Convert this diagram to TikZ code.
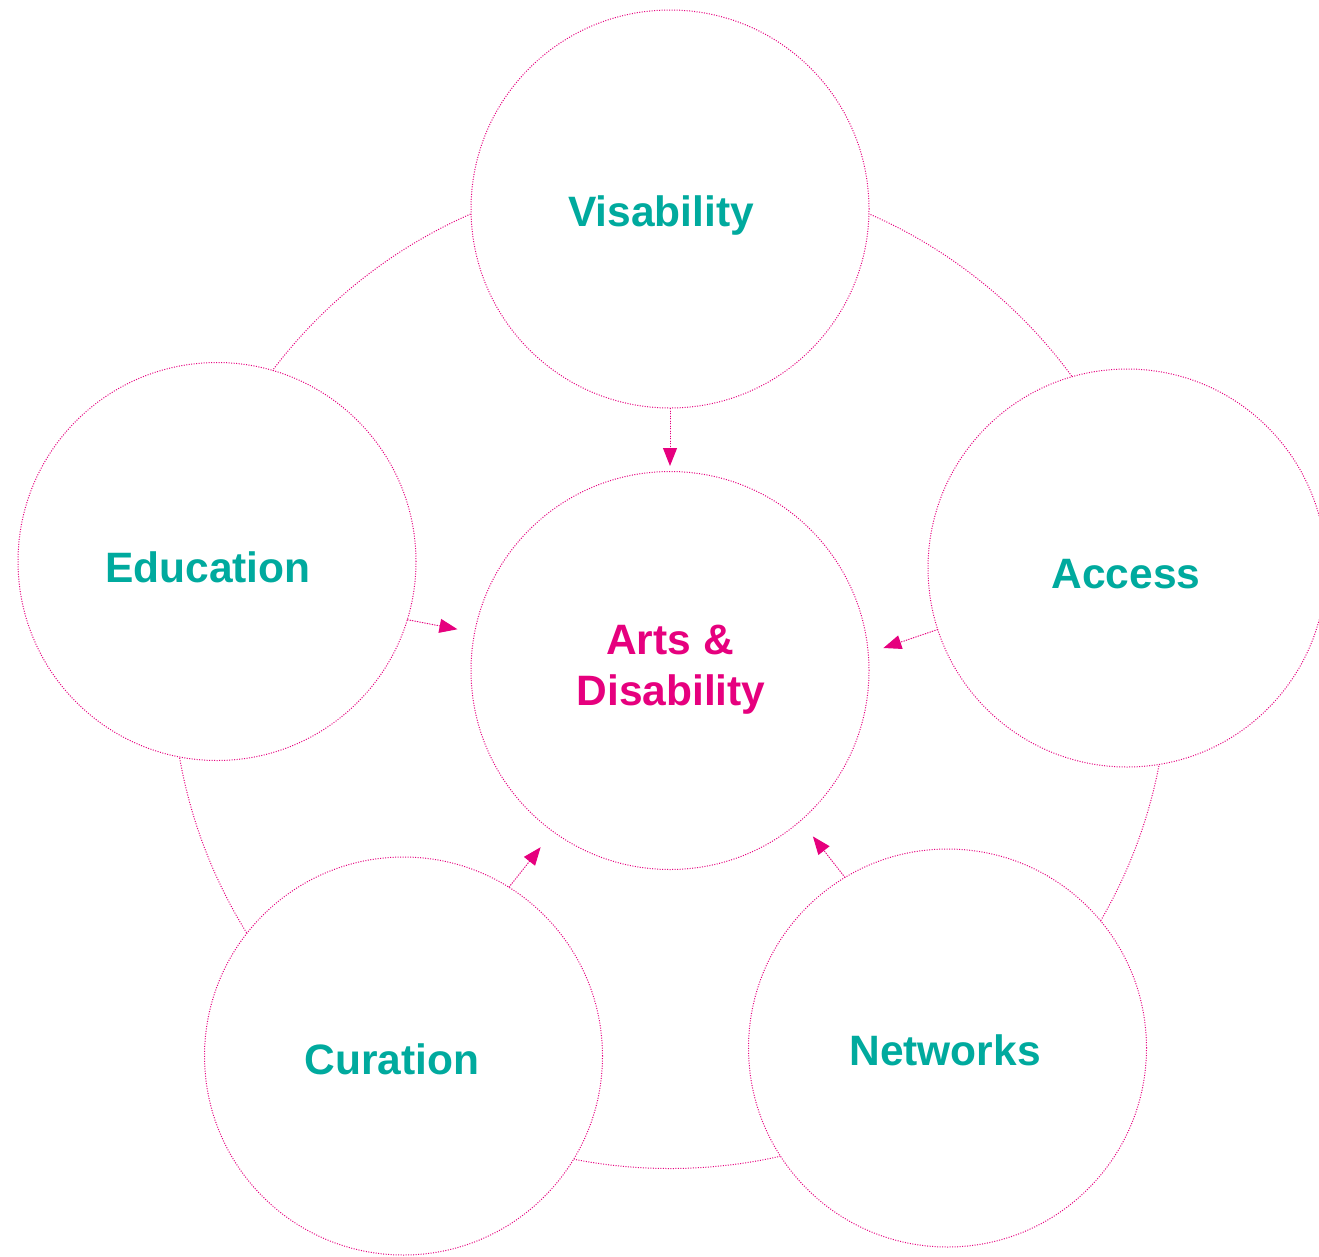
\documentclass[tikz,border=0pt]{standalone}
\usepackage{fontspec}
\setmainfont{Liberation Sans}
\usetikzlibrary{arrows.meta}
\definecolor{pinkline}{HTML}{E6007E}
\definecolor{tealtext}{HTML}{00AA9E}
\tikzset{
  dotline/.style={draw=pinkline, line width=1pt, dash pattern=on 1pt off 1.5pt},
  topic/.style={circle, dotline, fill=white, minimum size=398pt, inner sep=0pt, outer sep=0pt},
  topiclabel/.style={anchor=base, text=tealtext, inner sep=0pt, font=\fontsize{42.5}{50}\selectfont\bfseries},
  hublabel/.style={anchor=base, text=pinkline, inner sep=0pt, font=\fontsize{42.5}{50}\selectfont\bfseries},
  feed/.style={dotline, -{Triangle[length=18pt,width=14pt]}, fill=pinkline}
}
\begin{document}
\begin{tikzpicture}[x=1pt,y=-1pt]
  \useasboundingbox (0,0) rectangle (1319,1256);
  \clip (0,0) rectangle (1319,1256);

  % outer ring joining the five topics
  \coordinate (ringc) at (670,670.5);
  \draw[dotline] (ringc) circle[radius=498pt];

  % topic circles
  \node[topic] (hub) at (670,670.5) {};
  \node[topic] (vis) at (670,209) {};
  \node[topic] (edu) at (217,561.5) {};
  \node[topic] (acc) at (1127,568) {};
  \node[topic] (cur) at (403.5,1056) {};
  \node[topic] (net) at (947.5,1048) {};

  % labels
  \node[topiclabel] (visL) at (661,226) {Visability};
  \node[topiclabel] (eduL) at (208,582) {Education};
  \node[topiclabel] (accL) at (1126,588) {Access};
  \node[topiclabel] (curL) at (392,1074) {Curation};
  \node[topiclabel] (netL) at (945,1065) {Networks};
  \node[hublabel] (hubA) at (670,654) {Arts \&};
  \node[hublabel] (hubB) at (671,705) {Disability};

  % arrows into the centre
  \draw[feed, shorten >=5.5pt] (vis.-90.9) -- (hub.90.8);
  \draw[feed, shorten >=17.5pt] (edu.-17) -- (hub.169.5);
  \draw[feed, shorten >=16pt] (acc.198.8) -- (hub.5.5);
  \draw[feed, shorten >=20pt] (cur.58) -- (hub.234);
  \draw[feed, shorten >=20pt] (net.121.8) -- (hub.-49);
\end{tikzpicture}
\end{document}
